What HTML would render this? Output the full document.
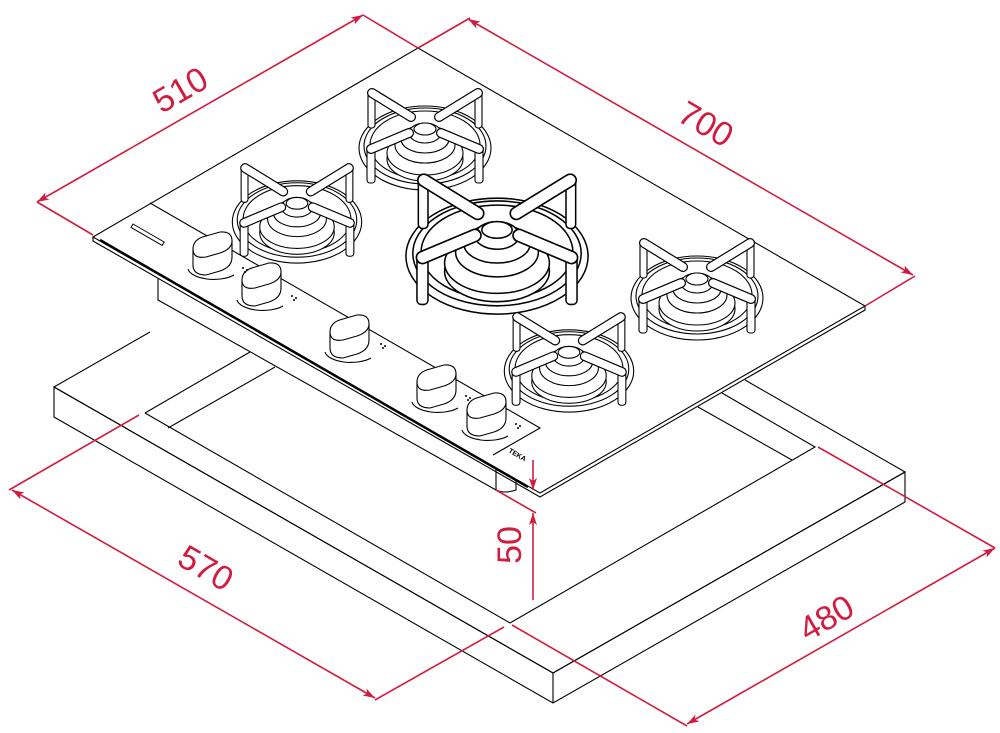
<!DOCTYPE html>
<html><head><meta charset="utf-8"><style>
html,body{margin:0;padding:0;background:#fff;}
svg{display:block;}
.r{stroke:#d21c3f;stroke-width:1.6;fill:none;}
.k{stroke:#000;stroke-width:1.1;fill:none;}
.t{fill:#d21c3f;font-family:"Liberation Sans",sans-serif;font-size:34px;}
</style></head><body>
<svg width="1000" height="733" viewBox="0 0 1000 733" xmlns="http://www.w3.org/2000/svg">
<defs>
<marker id="ar" viewBox="0 0 12 8" refX="12" refY="4" markerWidth="12" markerHeight="8" orient="auto-start-reverse" markerUnits="userSpaceOnUse">
<path d="M0,0 L12,4 L0,8 L3,4 Z" fill="#d21c3f"/></marker>
<g id="burner" stroke="#000" stroke-width="1.1" fill="#fff">
<ellipse cx="0" cy="3" rx="66" ry="42"/>
<ellipse cx="0" cy="1" rx="61" ry="38"/>
<ellipse cx="0" cy="0" rx="55" ry="34"/>
<ellipse cx="0" cy="14" rx="38" ry="22"/>
<ellipse cx="0" cy="8" rx="38" ry="22"/>
<ellipse cx="0" cy="0" rx="30" ry="18"/>
<ellipse cx="0" cy="-6" rx="24" ry="14"/>
<ellipse cx="0" cy="-12" rx="16" ry="10"/>
<ellipse cx="0" cy="-16" rx="11" ry="6"/>
<!-- legs -->
<rect x="-57" y="-55" width="7" height="38" rx="3"/>
<rect x="50" y="-55" width="7" height="38" rx="3"/>
<rect x="-58" y="2" width="8" height="36" rx="3"/>
<rect x="50" y="2" width="8" height="36" rx="3"/>
<!-- arms -->
<g stroke-linecap="round">
<path d="M-53,-52 L-14,-28 M53,-52 L14,-28 M-54,4 L-16,-12 M54,4 L16,-12" stroke="#000" stroke-width="10"/>
<path d="M-53,-52 L-14,-28 M53,-52 L14,-28 M-54,4 L-16,-12 M54,4 L16,-12" stroke="#fff" stroke-width="7.6"/>
</g>
</g>
<g id="knob" stroke="#000" stroke-width="1.1" fill="#fff">
<path d="M-24,14 A26,12 0 0 0 22,20"/>
<path d="M-19,-6 L-19,10 Q-19,20 -6,20 L8,16 Q20,12 20,2 L20,-14 Z"/>
<path d="M-19,-6 Q-19,-16 -6,-19 L8,-23 Q20,-24 20,-14 Q20,-6 8,-2 L-6,2 Q-19,4 -19,-6 Z"/>
</g>
</defs>

<!-- countertop slab -->
<g class="k">
<polygon points="54,387 553,673 905,472 905,502 553,703 54,417" fill="#fff"/>
<path d="M54,387 L553,673 L905,472 M553,673 L553,703"/>
<path d="M54,387 L150,332 M905,472 L745,380"/>
<!-- cutout -->
<path d="M145,413 L510,623 L815,447 L722,393 M145,413 L250,352"/>
<path d="M168,428 L275,367 M792,460 L698,407"/>
</g>

<!-- hob body under glass -->
<g class="k">
<path d="M158,278 L158,300 L496,490" />
<path d="M496,462 L496,490 Q505,494 516,490 L516,470"/>
</g>

<!-- glass -->
<polygon points="93,237 418,48 865,306 540,493" fill="#fff" stroke="#000" stroke-width="1.1"/>
<path class="k" d="M93,237 L93,241 L540,497 L865,310 L865,306"/>
<path d="M100,240 L528,487" stroke="#000" stroke-width="2.5"/>
<path class="k" d="M150,203 L540,428 L493,455"/>
<rect x="133" y="224" width="36" height="4" fill="none" stroke="#000" stroke-width="1" transform="rotate(30 133 224)"/>
<text x="508" y="452" font-family="Liberation Sans,sans-serif" font-size="7" font-weight="bold" transform="rotate(30 508 452)">TEKA</text>

<!-- burners -->
<use href="#burner" transform="translate(425,145)"/>
<use href="#burner" transform="translate(297,219) scale(0.98)"/>
<use href="#burner" transform="translate(497,252) scale(1.38)"/>
<use href="#burner" transform="translate(697,295)"/>
<use href="#burner" transform="translate(569,368) scale(0.98)"/>

<!-- knobs -->
<use href="#knob" transform="translate(212,255)"/>
<use href="#knob" transform="translate(261,286)"/>
<use href="#knob" transform="translate(349,338)"/>
<use href="#knob" transform="translate(436,388)"/>
<use href="#knob" transform="translate(486,416)"/>
<g fill="#000">
<circle cx="243" cy="268" r="1"/><circle cx="247" cy="270" r="1"/><circle cx="245" cy="272" r="1"/>
<circle cx="292" cy="296" r="1"/><circle cx="296" cy="298" r="1"/><circle cx="294" cy="300" r="1"/>
<circle cx="381" cy="344" r="1"/><circle cx="385" cy="346" r="1"/><circle cx="383" cy="348" r="1"/>
<circle cx="466" cy="396" r="1"/><circle cx="470" cy="398" r="1"/><circle cx="468" cy="400" r="1"/>
<circle cx="516" cy="424" r="1"/><circle cx="520" cy="426" r="1"/><circle cx="518" cy="428" r="1"/>
</g>

<!-- dimensions -->
<path class="r" d="M93,235 L37,202 M418,48 L363,15 M418,48 L470,18 M865,306 L915,276"/>
<line class="r" x1="37" y1="202" x2="363" y2="15" marker-start="url(#ar)" marker-end="url(#ar)"/>
<line class="r" x1="468" y1="19" x2="913" y2="275" marker-start="url(#ar)" marker-end="url(#ar)"/>
<text class="t" transform="translate(186,100) rotate(-30)" text-anchor="middle">510</text>
<text class="t" transform="translate(700,134) rotate(30)" text-anchor="middle">700</text>

<path class="r" d="M139,415 L9,490 M504,627 L375,700"/>
<line class="r" x1="12" y1="490" x2="375" y2="698" marker-start="url(#ar)" marker-end="url(#ar)"/>
<text class="t" transform="translate(200,578) rotate(30)" text-anchor="middle">570</text>

<path class="r" d="M818,447 L995,548 M512,625 L687,726"/>
<line class="r" x1="687" y1="724" x2="995" y2="548" marker-start="url(#ar)" marker-end="url(#ar)"/>
<text class="t" transform="translate(832,628) rotate(-30)" text-anchor="middle">480</text>

<path class="r" d="M496,490 L536,513"/>
<line class="r" x1="533" y1="460" x2="533" y2="490" marker-end="url(#ar)"/>
<line class="r" x1="533" y1="600" x2="533" y2="513" marker-end="url(#ar)"/>
<text class="t" transform="translate(521,545) rotate(-90)" text-anchor="middle">50</text>
</svg>
</body></html>
